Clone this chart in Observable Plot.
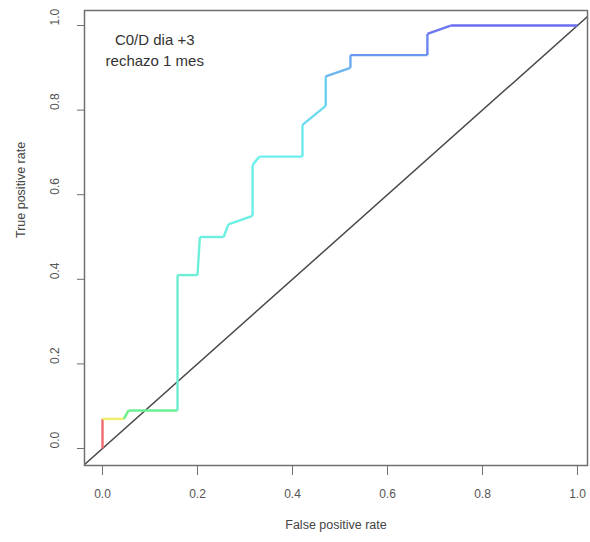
<!DOCTYPE html>
<html>
<head>
<meta charset="utf-8">
<script src="https://cdn.jsdelivr.net/npm/d3@7"></script>
<script src="https://cdn.jsdelivr.net/npm/@observablehq/plot@0.6"></script>
<style>
  html, body { margin: 0; padding: 0; background: #fff; }
  #chart { width: 590px; height: 542px; }
  svg { font-family: "Liberation Sans", Arial, sans-serif; }
</style>
</head>
<body>
<div id="chart"></div>
<script>
// ROC curve points
const fpr = [0, 0, 0.045, 0.055, 0.158, 0.158, 0.200, 0.205, 0.255, 0.265, 0.316, 0.316, 0.330, 0.421, 0.421, 0.470, 0.470, 0.522, 0.522, 0.684, 0.684, 0.733, 1.0];
const tpr = [0, 0.07, 0.07, 0.09, 0.09, 0.41, 0.41, 0.50, 0.50, 0.53, 0.55, 0.67, 0.69, 0.69, 0.765, 0.81, 0.88, 0.90, 0.93, 0.93, 0.98, 1.0, 1.0];
// estimated (normalized) cutoff of each point, used for the colorized curve
const cutoff = [1.0, 1.0, 0.75, 0.45, 0.42, 0.31, 0.30, 0.29, 0.28, 0.27, 0.27, 0.26, 0.25, 0.25, 0.24, 0.21, 0.19, 0.14, 0.12, 0.08, 0.05, 0.02, 0.0];
const xTicks = [0, 0.2, 0.4, 0.6, 0.8, 1.0];
const yTicks = [0, 0.2, 0.4, 0.6, 0.8, 1.0];
const diagonal = [-0.1, 1.1];
const note = ["C0/D dia +3", "rechazo 1 mes"];
const xLabel = "False positive rate";
const yLabel = "True positive rate";

const segments = fpr.slice(1).map((_, i) => ({
  x1: fpr[i], y1: tpr[i], x2: fpr[i + 1], y2: tpr[i + 1], c: cutoff[i + 1]
}));

const rainbow = t => d3.hsl(240 * (1 - t), 0.8, 0.68).formatHex();

const chart = Plot.plot({
  width: 590,
  height: 542,
  marginLeft: 84,
  marginRight: 3,
  marginTop: 10,
  marginBottom: 77,
  style: { fontFamily: "'Liberation Sans', Arial, sans-serif", background: "#fff" },
  x: { domain: [-0.0379, 1.0211], axis: null },
  y: { domain: [-0.0402, 1.0355], axis: null },
  color: { type: "linear", domain: [0, 1], interpolate: () => rainbow },
  marks: [
    Plot.line(diagonal.map(d => ({ x: d, y: d })), { x: "x", y: "y", stroke: "#4a4a4a", strokeWidth: 1.5, clip: true }),
    Plot.link(segments, { x1: "x1", y1: "y1", x2: "x2", y2: "y2", stroke: "c", strokeWidth: 2.4, clip: true }),
    Plot.frame({ stroke: "#707070", strokeWidth: 1.5 }),
    Plot.axisX(xTicks, { tickSize: 10, tickPadding: 14, tickFormat: d3.format(".1f"), fontSize: 12, color: "#555", stroke: "#707070" }),
    Plot.axisY(yTicks, { tickSize: 7, tickFormat: () => "", stroke: "#707070" }),
    Plot.text(yTicks, { y: d => d, frameAnchor: "left", dx: -29, rotate: -90, text: d3.format(".1f"), fontSize: 12, fill: "#555" }),
    Plot.text([xLabel], { frameAnchor: "bottom", dy: 63, text: d => d, fontSize: 12.5, fill: "#444" }),
    Plot.text([yLabel], { frameAnchor: "left", dx: -64, rotate: -90, text: d => d, fontSize: 12.5, fill: "#444" }),
    Plot.text(note, { x: 0.11, y: (d, i) => [0.965, 0.915][i], text: d => d, fontSize: 15, fill: "#333" })
  ]
});
document.getElementById("chart").appendChild(chart);
</script>
</body>
</html>
